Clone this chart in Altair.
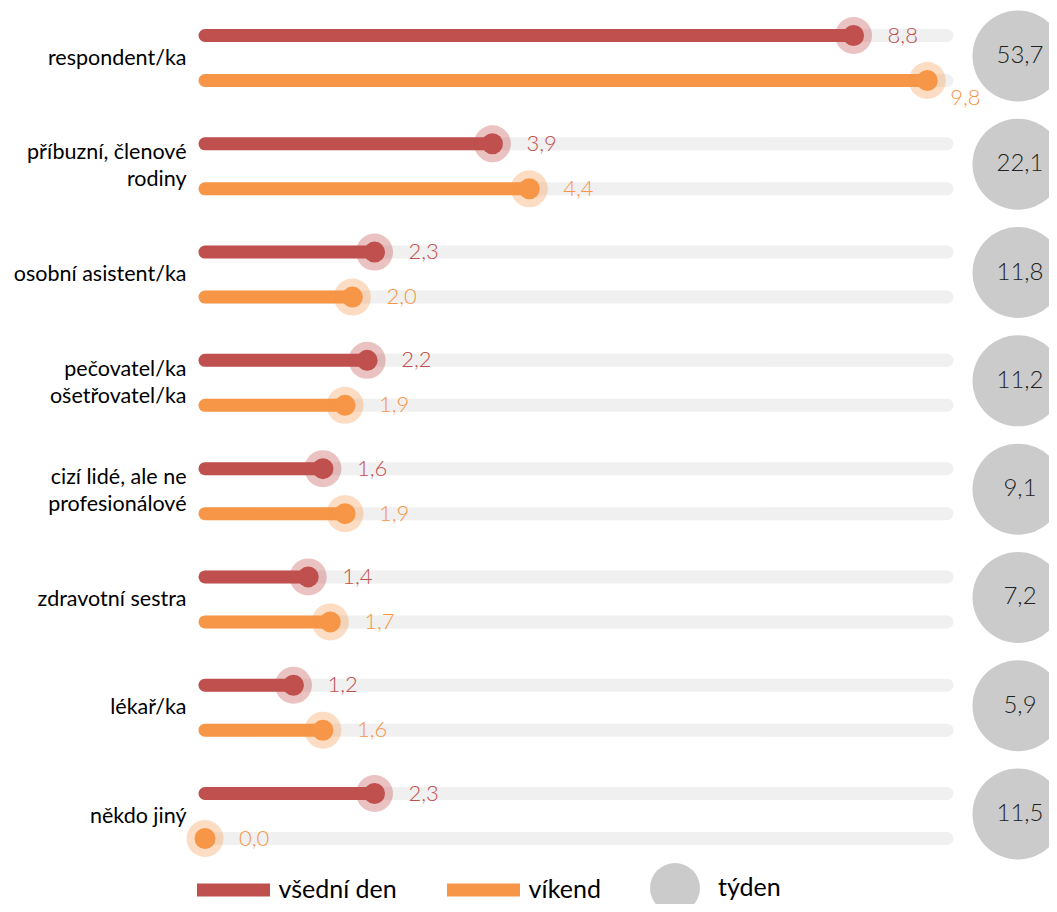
import altair as alt
import pandas as pd

categories = [
    "respondent/ka",
    "příbuzní, členové\nrodiny",
    "osobní asistent/ka",
    "pečovatel/ka\nošetřovatel/ka",
    "cizí lidé, ale ne\nprofesionálové",
    "zdravotní sestra",
    "lékař/ka",
    "někdo jiný",
]
weekday = [8.8, 3.9, 2.3, 2.2, 1.6, 1.4, 1.2, 2.3]
weekend = [9.8, 4.4, 2.0, 1.9, 1.9, 1.7, 1.6, 0.0]
week = [53.7, 22.1, 11.8, 11.2, 9.1, 7.2, 5.9, 11.5]
series_names = ["všední den", "víkend"]
week_name = "týden"

RED = "#C0504D"
ORANGE = "#F79646"
GRAY = "#CBCBCB"
TRACK = "#F0F0F0"

W = 737
H = 758
DY = 22.5
LH = 27

rows = []
for c, a, b in zip(categories, weekday, weekend):
    rows.append({"cat": c, "series": series_names[0], "value": a})
    rows.append({"cat": c, "series": series_names[1], "value": b})
df = pd.DataFrame(rows)
wk = pd.DataFrame({"cat": categories, "week": week, "name": [week_name] * len(categories)})

y = alt.Y(
    "cat:N",
    sort=categories,
    scale=alt.Scale(type="point", padding=0),
    axis=alt.Axis(
        title=None, ticks=False, domain=False, grid=False,
        labelFontSize=21.5, labelFont="Lato", labelColor="#000",
        labelPadding=19, labelLineHeight=LH,
        labelExpr="split(datum.label, '\\n')",
        labelOffset={"condition": {"test": "indexof(datum.value, '\\n') >= 0",
                                   "value": -LH / 2},
                     "value": 0},
    ),
)
xscale = alt.Scale(domain=[0, 10])
x = alt.X("value:Q", scale=xscale, axis=None)
x0 = alt.X("zero:Q", scale=xscale, axis=None)

stroke_enc = alt.Stroke(
    "series:N",
    scale=alt.Scale(domain=series_names, range=[RED, ORANGE]),
    legend=alt.Legend(
        title=None, orient="none", legendX=-14.5, legendY=789,
        direction="horizontal", symbolType="stroke", symbolSize=5329,
        symbolStrokeWidth=13, labelFont="Lato", labelFontSize=25,
        labelColor="#000", labelOffset=2, columnPadding=23, padding=0,
    ),
)

base = alt.Chart(df).transform_calculate(
    lbl="replace(format(datum.value, '.1f'), '.', ',')",
    zero="0",
)

layers = []
for name, color, off, halo_op in [
    (series_names[0], RED, -DY, 0.35),
    (series_names[1], ORANGE, DY, 0.33),
]:
    b = base.transform_filter(alt.datum.series == name)
    layers.append(
        b.mark_rule(stroke=TRACK, strokeWidth=13, strokeCap="round", yOffset=off)
        .encode(x=x0, x2=alt.value(W + 5), y=y)
    )
    layers.append(
        b.mark_rule(strokeWidth=13, strokeCap="round", yOffset=off)
        .encode(x=x0, x2="value:Q", y=y, stroke=stroke_enc)
    )
    layers.append(
        b.mark_circle(size=1369, color=color, opacity=halo_op, yOffset=off)
        .encode(x=x, y=y)
    )
    layers.append(
        b.mark_circle(size=441, color=color, opacity=1, yOffset=off)
        .encode(x=x, y=y)
    )
    layers.append(
        b.transform_filter(alt.datum.value < 9.5)
        .mark_text(align="left", baseline="middle", dx=34, dy=off,
                   font="Lato", fontWeight=300, fontSize=22, color=color)
        .encode(x=x, y=y, text="lbl:N")
    )
    layers.append(
        b.transform_filter(alt.datum.value >= 9.5)
        .mark_text(align="left", baseline="middle", dx=23, dy=off + 17,
                   font="Lato", fontWeight=300, fontSize=22, color=color)
        .encode(x=x, y=y, text="lbl:N")
    )

wbase = alt.Chart(wk).transform_calculate(
    lbl="replace(format(datum.week, '.1f'), '.', ',')"
)
layers.append(
    wbase.mark_circle(size=8281, opacity=1, yOffset=-2)
    .encode(
        x=alt.value(W + 76), y=y,
        fill=alt.Fill(
            "name:N",
            scale=alt.Scale(domain=[week_name], range=[GRAY]),
            legend=alt.Legend(
                title=None, orient="none", legendX=445, legendY=805,
                symbolType="circle", symbolSize=2500, symbolStrokeWidth=0,
                labelFont="Lato", labelFontSize=25, labelColor="#000",
                labelOffset=18, padding=0,
            ),
        ),
    )
)
layers.append(
    wbase.mark_text(align="center", baseline="middle", font="Lato",
                    fontWeight=300, fontSize=24, color="#222", dy=-2)
    .encode(x=alt.value(W + 78), y=y, text="lbl:N")
)

chart = (
    alt.layer(*layers)
    .properties(
        width=W, height=H,
        padding={"left": 197, "top": 50, "right": 107, "bottom": 88},
        autosize=alt.AutoSizeParams(type="none"),
        background="white",
    )
    .configure_view(stroke=None)
)

chart.save("out.html", embed_options={"renderer": "svg", "actions": False})
